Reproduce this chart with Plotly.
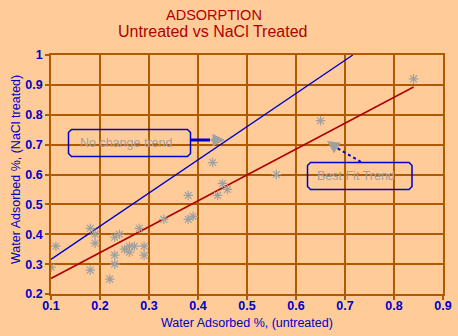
import plotly.graph_objects as go

# ---- data ----
untreated = [0.10, 0.11, 0.18, 0.19, 0.19, 0.18, 0.22, 0.23, 0.24, 0.23, 0.23,
             0.25, 0.26, 0.26, 0.27, 0.28, 0.29, 0.29, 0.33, 0.38, 0.38, 0.39,
             0.43, 0.45, 0.44, 0.46, 0.56, 0.65, 0.84]
nacl_treated = [0.29, 0.36, 0.42, 0.40, 0.37, 0.28, 0.25, 0.39, 0.40, 0.33, 0.30,
                0.35, 0.34, 0.36, 0.36, 0.42, 0.36, 0.33, 0.45, 0.53, 0.45, 0.46,
                0.64, 0.57, 0.53, 0.55, 0.60, 0.78, 0.92]
no_change_x = [0.10, 0.716]
no_change_y = [0.316, 1.00]
best_fit_x = [0.10, 0.84]
best_fit_y = [0.252, 0.893]
x_ticks = [0.1, 0.2, 0.3, 0.4, 0.5, 0.6, 0.7, 0.8, 0.9]
y_ticks = [0.2, 0.3, 0.4, 0.5, 0.6, 0.7, 0.8, 0.9, 1.0]

BG = "#FFCC99"
GRID = "#B05A00"
BLUE = "#0000C8"
RED = "#B00000"
GRAY = "#A0A0A0"

# plot area in pixels
L, R, T, B = 51, 15, 55, 42
W, H = 458, 336
PW, PH = W - L - R, H - T - B
XR, YR = (0.1, 0.9), (0.2, 1.0)


def dx(px):
    return XR[0] + (px - L) / PW * (XR[1] - XR[0])


def dy(py):
    return YR[0] + (T + PH - py) / PH * (YR[1] - YR[0])


def px_paper_x(px):
    return (px - L) / PW


def px_paper_y(py):
    return (T + PH - py) / PH


def rounded_box(x0, y0, x1, y1, c=3):
    pts = [(x0 + c, y0), (x1 - c, y0), (x1, y0 + c), (x1, y1 - c), (x1 - c, y1),
           (x0 + c, y1), (x0, y1 - c), (x0, y0 + c)]
    return "M " + " L ".join(f"{dx(a):.5f},{dy(b):.5f}" for a, b in pts) + " Z"


fig = go.Figure()
fig.add_trace(go.Scatter(x=no_change_x, y=no_change_y, mode="lines",
                         line=dict(color=BLUE, width=1.3), hoverinfo="skip"))
fig.add_trace(go.Scatter(x=best_fit_x, y=best_fit_y, mode="lines",
                         line=dict(color=RED, width=1.5), hoverinfo="skip"))
fig.add_trace(go.Scatter(x=untreated, y=nacl_treated, mode="markers",
                         marker=dict(symbol="asterisk-open", size=8, color=GRAY,
                                     line=dict(color=GRAY, width=1.2))))

# annotation boxes
fig.add_shape(type="path", path=rounded_box(68.5, 129.5, 190.5, 156.5),
              line=dict(color=BLUE, width=1.5), xref="x", yref="y")
fig.add_shape(type="path", path=rounded_box(307.5, 162.5, 412, 189.5),
              line=dict(color=BLUE, width=1.5), xref="x", yref="y")
fig.add_annotation(x=dx(125.5), y=dy(143), text="No change trend", showarrow=False,
                   font=dict(family="Liberation Sans", size=12.5, color=GRAY))
fig.add_annotation(x=dx(355.5), y=dy(176), text="Best Fit Trend", showarrow=False,
                   font=dict(family="Liberation Sans", size=12.5, color=GRAY))

# arrows: blue shafts
fig.add_shape(type="line", x0=dx(190.5), y0=dy(140), x1=dx(210), y1=dy(140),
              line=dict(color=BLUE, width=3), xref="x", yref="y")
fig.add_shape(type="line", x0=dx(361), y0=dy(162), x1=dx(337), y1=dy(148),
              line=dict(color=BLUE, width=2, dash="dot"), xref="x", yref="y")
# gray heads
fig.add_annotation(x=dx(225), y=dy(140), ax=dx(209), ay=dy(140), axref="x", ayref="y",
                   xref="x", yref="y", text="", showarrow=True, arrowhead=2,
                   arrowsize=1.0, arrowwidth=2.5, arrowcolor=GRAY)
fig.add_annotation(x=dx(327), y=dy(141), ax=dx(339), ay=dy(149), axref="x", ayref="y",
                   xref="x", yref="y", text="", showarrow=True, arrowhead=2,
                   arrowsize=1.0, arrowwidth=2.5, arrowcolor=GRAY)

# titles
fig.add_annotation(x=px_paper_x(213.5), y=px_paper_y(14.5), xref="paper", yref="paper",
                   xanchor="center", yanchor="middle", showarrow=False,
                   text="ADSORPTION", font=dict(family="Liberation Sans", size=14.5, color=RED))
fig.add_annotation(x=px_paper_x(212.5), y=px_paper_y(31.5), xref="paper", yref="paper",
                   xanchor="center", yanchor="middle", showarrow=False,
                   text="Untreated vs NaCl Treated",
                   font=dict(family="Liberation Sans", size=16, color=RED))
fig.add_annotation(x=px_paper_x(247), y=px_paper_y(322.5), xref="paper", yref="paper",
                   xanchor="center", yanchor="middle", showarrow=False,
                   text="Water Adsorbed %, (untreated)",
                   font=dict(family="Liberation Sans", size=12.5, color=BLUE))
fig.add_annotation(x=px_paper_x(16), y=px_paper_y(170), xref="paper", yref="paper",
                   xanchor="center", yanchor="middle", showarrow=False, textangle=-90,
                   text="Water Adsorbed %, (NaCl treated)",
                   font=dict(family="Liberation Sans", size=12.5, color=BLUE))

axis_common = dict(showgrid=True, gridcolor=GRID, gridwidth=1.5,
                   showline=True, linecolor=GRID, linewidth=1.5, mirror=True,
                   ticks="outside", ticklen=4, tickcolor=GRID, tickwidth=1.5,
                   zeroline=False, automargin=False,
                   tickfont=dict(family="Liberation Sans", size=12.5, color=BLUE, weight="bold"))
fig.update_xaxes(range=list(XR), tickvals=x_ticks, ticklabelstandoff=-5,
                 ticktext=[f"{v:g}" for v in x_ticks], **axis_common)
fig.update_yaxes(range=list(YR), tickvals=y_ticks,
                 ticktext=[f"{v:g}" for v in y_ticks], **axis_common)

fig.update_layout(width=W, height=H, margin=dict(l=L, r=R, t=T, b=B),
                  paper_bgcolor=BG, plot_bgcolor=BG, showlegend=False)

fig.write_html("out.html")
